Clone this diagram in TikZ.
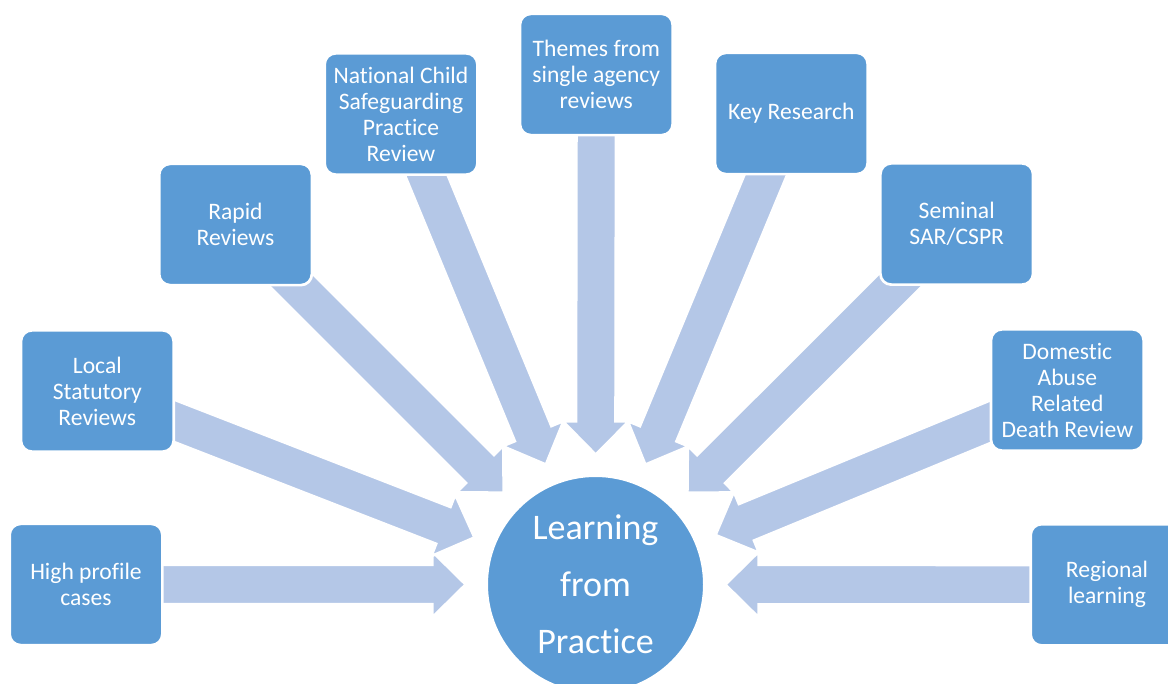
\documentclass[tikz,border=0pt]{standalone}
\usepackage{fontspec}
\setmainfont[Ligatures=NoCommon,RawFeature={-liga;-clig;-calt;-dlig}]{Carlito}
\usetikzlibrary{calc}
\pgfdeclarelayer{background}
\pgfsetlayers{background,main}
\definecolor{boxblue}{HTML}{5B9BD5}
\definecolor{arrowblue}{HTML}{B4C7E7}
\tikzset{
  srcbox/.style={draw=white, line width=2.7pt, fill=boxblue, rounded corners=11pt,
    minimum width=152.7pt, minimum height=121.3pt, inner sep=0pt, align=center,
    text=white, font=\fontsize{23.6}{26}\selectfont},
  hub/.style={circle, draw=white, line width=2.7pt, fill=boxblue, minimum size=217.7pt,
    inner sep=0pt, align=center, text=white, font=\fontsize{36}{57}\selectfont},
  blockarrow/.style={fill=arrowblue, draw=white, line width=2.7pt, line join=miter},
}
\newcommand{\flowarrow}[1]{%
  \coordinate (tip) at ($(C.center)!129.8pt!(#1.center)$);
  \coordinate (base) at ($(tip)!33.5pt!(#1.center)$);
  \path[blockarrow] ($(#1.center)!19.8pt!90:(tip)$) -- ($(base)!19.8pt!90:(tip)$)
    -- ($(base)!33pt!90:(tip)$) -- (tip) -- ($(base)!33pt!-90:(tip)$)
    -- ($(base)!19.8pt!-90:(tip)$) -- ($(#1.center)!19.8pt!-90:(tip)$) -- cycle;
}
\begin{document}
\begin{tikzpicture}[x=1pt,y=-1pt]
\useasboundingbox (0,0) rectangle (1168,684);
\clip (0,0) rectangle (1168,684);
\node[hub] (C) at (595.5,584.5) {Learning\\from\\Practice};
\node[srcbox] (b1) at (86,584.5) {High profile\\cases};
\node[srcbox] (b2) at (97.3,391) {Local\\Statutory\\Reviews};
\node[srcbox] (b3) at (235.5,224.5) {Rapid\\Reviews};
\node[srcbox] (b4) at (401,114) {National Child\\Safeguarding\\Practice\\Review};
\node[srcbox] (b5) at (596.3,74.5) {Themes from\\single agency\\reviews};
\node[srcbox] (b6) at (791.3,113.5) {Key Research};
\node[srcbox] (b7) at (956.7,224) {Seminal\\SAR/CSPR};
\node[srcbox] (b8) at (1067.3,390) {Domestic\\Abuse\\Related\\Death Review};
\node[srcbox] (b9) at (1107,584.8) {Regional\\learning};
\begin{pgfonlayer}{background}
\flowarrow{b1}
\flowarrow{b2}
\flowarrow{b3}
\flowarrow{b4}
\flowarrow{b5}
\flowarrow{b6}
\flowarrow{b7}
\flowarrow{b8}
\flowarrow{b9}
\end{pgfonlayer}
\end{tikzpicture}
\end{document}
